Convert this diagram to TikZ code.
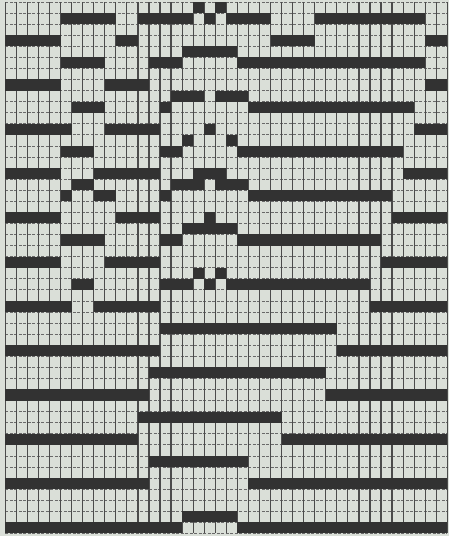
\documentclass[tikz,border=0pt]{standalone}
\definecolor{paper}{RGB}{218,223,216}
\definecolor{ink}{RGB}{50,50,50}
\definecolor{gridv}{RGB}{75,75,75}
\definecolor{gridh}{RGB}{105,105,105}
\tikzset{
  barcell/.style={fill=ink},
  vline/.style={draw=gridv, line width=1.2pt},
  hline/.style={draw=gridh, line width=0.7pt, dash pattern=on 3pt off 1.5pt},
}
\begin{document}
\begin{tikzpicture}[x=1pt,y=-1pt]
\def\gx{5.3}\def\gy{2}\def\cw{11.05}\def\ch{11.07}
\fill[paper] (0,0) rectangle (449,536);
\useasboundingbox (0,0) rectangle (449,536);
\foreach \k in {0,...,48} \draw[hline] (\gx,{\gy+\k*\ch}) -- ({\gx+40*\cw},{\gy+\k*\ch});
\foreach \k in {0,...,40} \draw[vline] ({\gx+\k*\cw},\gy) -- ({\gx+\k*\cw},{\gy+48*\ch});
\foreach \r/\a/\b in {
0/17/17, 0/19/19,
1/5/9, 1/12/16, 1/18/18, 1/20/23, 1/28/37,
3/0/4, 3/10/11, 3/24/27, 3/38/39,
4/16/20,
5/5/8, 5/13/15, 5/21/37,
7/0/4, 7/9/12, 7/38/39,
8/15/17, 8/19/21,
9/6/8, 9/14/14, 9/22/36,
11/0/5, 11/9/13, 11/18/18, 11/37/39,
12/16/16, 12/20/20,
13/5/7, 13/14/15, 13/21/35,
15/0/4, 15/8/13, 15/17/19, 15/36/39,
16/6/7, 16/15/17, 16/19/21,
17/5/5, 17/8/9, 17/14/14, 17/22/34,
19/0/4, 19/10/13, 19/18/18, 19/35/39,
20/16/20,
21/5/8, 21/14/15, 21/21/33,
23/0/4, 23/9/13, 23/34/39,
24/17/17, 24/19/19,
25/6/7, 25/14/16, 25/18/18, 25/20/32,
27/0/5, 27/8/13, 27/33/39,
29/14/29,
31/0/13, 31/30/39,
33/13/28,
35/0/12, 35/29/39,
37/12/24,
39/0/11, 39/25/39,
41/13/21,
43/0/12, 43/22/39,
46/16/20,
47/0/15, 47/21/39}
  \fill[barcell] ({\gx+\a*\cw},{\gy+\r*\ch}) rectangle ({\gx+(\b+1)*\cw},{\gy+(\r+1)*\ch});
\end{tikzpicture}
\end{document}
